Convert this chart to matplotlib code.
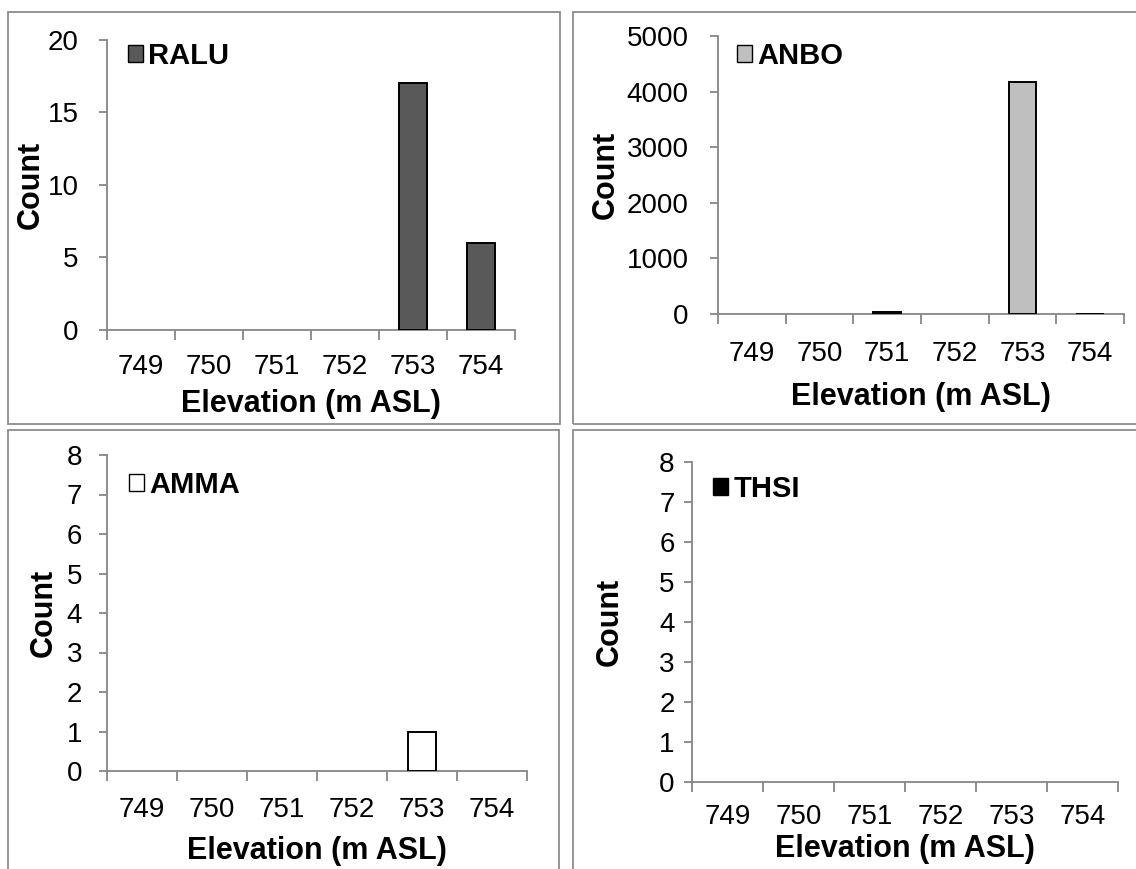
import matplotlib
matplotlib.use("Agg")
import matplotlib.pyplot as plt
from matplotlib.patches import Rectangle, Patch
import numpy as np

plt.rcParams['font.family'] = ['Liberation Sans', 'DejaVu Sans']

elevations = ['749', '750', '751', '752', '753', '754']
ralu = [0, 0, 0, 0, 17, 6]
anbo = [0, 0, 40, 0, 4170, 5]
amma = [0, 0, 0, 0, 1, 0]
thsi = [0, 0, 0, 0, 0, 0]

species = ['RALU', 'ANBO', 'AMMA', 'THSI']
series = [ralu, anbo, amma, thsi]
colors = ['#595959', '#BFBFBF', '#FFFFFF', '#000000']
ymax = [20, 5000, 8, 8]
ystep = [5, 1000, 1, 1]

W, H = 1136, 869
fig = plt.figure(figsize=(W / 100, H / 100), dpi=100)

# axes boxes in pixel coords: left, right, top, bottom
boxes = [(106.5, 515, 40, 329.5),
         (718, 1124, 36, 314),
         (107, 527, 455, 771),
         (692, 1118, 462, 782)]
# panel borders: x0, y0, x1, y1 (pixels, from top)
borders = [(8, 12, 560, 424), (573, 12, 1140, 424),
           (8, 430, 559, 875), (573, 430, 1140, 875)]
legend_pos = [(128, 56), (737, 56), (129, 485), (713, 489)]
ylabel_x = [31, 606, 44, 610]
ytick_pad = [14, 15, 12, 6.5]
xtick_pad = [17.5, 19.5, 19, 16]
xlabel_pad = [6.5, 11, 9, 3]

spine_col = '#868686'

for (x0, y0, x1, y1) in borders:
    fig.patches.append(Rectangle((x0 / W, 1 - y1 / H), (x1 - x0) / W, (y1 - y0) / H,
                                 transform=fig.transFigure, fill=False,
                                 edgecolor='#8C8C8C', linewidth=1.3))

x = np.arange(len(elevations))
for i in range(4):
    l, r, t, b = boxes[i]
    ax = fig.add_axes([l / W, 1 - b / H, (r - l) / W, (b - t) / H])
    edges = ['black' if v > 0 else 'none' for v in series[i]]
    ax.bar(x, series[i], width=0.41, color=colors[i], edgecolor=edges, linewidth=1.4,
           zorder=3)
    ax.set_xlim(-0.5, len(elevations) - 0.5)
    ax.set_ylim(0, ymax[i])
    ax.set_yticks(np.arange(0, ymax[i] + ystep[i] / 2, ystep[i]))
    ax.set_xticks(np.arange(-0.5, len(elevations), 1))
    ax.set_xticklabels([])
    ax.set_xticks(x, minor=True)
    ax.set_xticklabels(elevations, minor=True)
    for s in ['top', 'right']:
        ax.spines[s].set_visible(False)
    for s in ['left', 'bottom']:
        ax.spines[s].set_color(spine_col)
        ax.spines[s].set_linewidth(1.3)
    ax.tick_params(axis='x', which='major', direction='out', length=7, width=1.3,
                   color=spine_col)
    ax.tick_params(axis='x', which='minor', length=0, pad=xtick_pad[i], labelsize=20)
    ax.tick_params(axis='y', direction='out', length=6, width=1.3, color=spine_col,
                   labelsize=20, pad=ytick_pad[i])
    ax.set_xlabel('Elevation (m ASL)', fontsize=22, fontweight='bold',
                  labelpad=xlabel_pad[i])
    ax.set_ylabel('Count', fontsize=22, fontweight='bold', va='center')
    ax.yaxis.set_label_coords((ylabel_x[i] - l) / (r - l), 0.5)
    ax.patch.set_alpha(0)

    lx, ly = legend_pos[i]
    handle = Patch(facecolor=colors[i], edgecolor='black', linewidth=1.0)
    ax.legend([handle], [species[i]], loc='center left',
              bbox_to_anchor=((lx - l) / (r - l), (b - ly) / (b - t)),
              frameon=False, borderpad=0, borderaxespad=0,
              handlelength=0.5, handleheight=0.5, handletextpad=0.2,
              prop={'weight': 'bold', 'size': 21})

fig.savefig('out.png', dpi=100)
